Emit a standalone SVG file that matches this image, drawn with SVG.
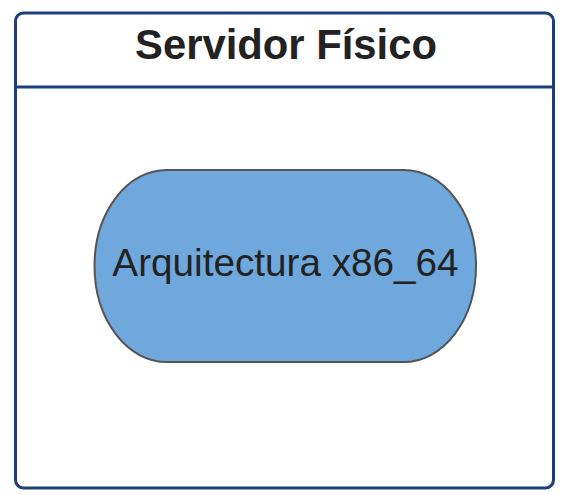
<svg xmlns="http://www.w3.org/2000/svg" width="563" height="495" viewBox="0 0 563 495">
<style>
.frame{fill:#ffffff;stroke:#1d3f7a;stroke-width:3}
.node{fill:#6fa8dc;stroke:#555555;stroke-width:2}
.title{font-family:"Liberation Sans",Arial,sans-serif;font-weight:bold;font-size:41.8px;fill:#222222;text-anchor:middle}
.label{font-family:"Liberation Sans",Arial,sans-serif;font-size:38.7px;fill:#222222;text-anchor:middle}
</style>
<g id="servidor-fisico">
<rect class="frame" x="15.5" y="13" width="538" height="475" rx="8"/>
<line x1="15.5" y1="87" x2="553.5" y2="87" stroke="#1d3f7a" stroke-width="3"/>
<text class="title" x="286" y="59">Servidor Físico</text>
</g>
<g id="arquitectura">
<rect class="node" x="94.5" y="170" width="381.5" height="192" rx="72" ry="96"/>
<text class="label" x="285.5" y="276">Arquitectura x86_64</text>
</g>
<g id="connectors"></g>
</svg>
